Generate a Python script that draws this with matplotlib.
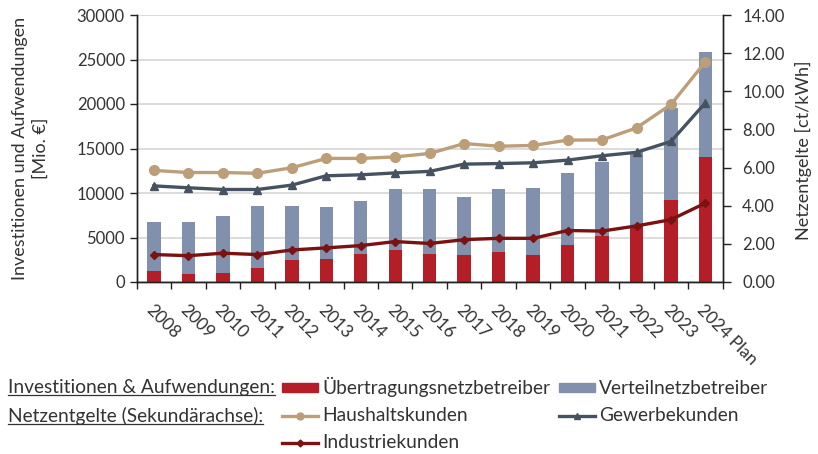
import matplotlib
matplotlib.use("Agg")
import matplotlib.pyplot as plt
from matplotlib.patches import Patch
from matplotlib.lines import Line2D
import numpy as np

plt.rcParams['font.family'] = ['Lato', 'DejaVu Sans']

years = ['2008', '2009', '2010', '2011', '2012', '2013', '2014', '2015', '2016',
         '2017', '2018', '2019', '2020', '2021', '2022', '2023', '2024 Plan']

# Investitionen & Aufwendungen [Mio. €]
uenb = [1200, 900, 1050, 1550, 2450, 2600, 3100, 3550, 3200, 3050, 3350, 3050,
        4150, 5150, 6350, 9200, 14000]
vnb = [5500, 5800, 6400, 6950, 6050, 5800, 6050, 6850, 7200, 6550, 7050, 7500,
       8100, 8350, 8300, 10350, 11800]

# Netzentgelte [ct/kWh]
haushalt = [5.85, 5.74, 5.74, 5.70, 5.99, 6.48, 6.48, 6.56, 6.74, 7.26, 7.12, 7.16,
            7.44, 7.45, 8.08, 9.31, 11.55]
gewerbe = [5.04, 4.94, 4.85, 4.85, 5.08, 5.57, 5.62, 5.72, 5.80, 6.18, 6.21, 6.25,
           6.39, 6.62, 6.80, 7.37, 9.40]
industrie = [1.44, 1.38, 1.51, 1.44, 1.68, 1.79, 1.91, 2.12, 2.02, 2.22, 2.29, 2.29,
             2.70, 2.67, 2.94, 3.27, 4.14]

C_UENB = '#B41F27'
C_VNB = '#8191AD'
C_HH = '#BC9E78'
C_GW = '#46525F'
C_IN = '#7A1212'
TXT = '#333333'

fig = plt.figure(figsize=(8.18, 4.54), dpi=100)
ax = fig.add_axes([136.7 / 818, 1 - 282 / 454, (722.7 - 136.7) / 818, (282 - 15) / 454])
ax2 = ax.twinx()

x = np.arange(len(years))
ax.bar(x, uenb, width=0.39, color=C_UENB, zorder=2)
ax.bar(x, vnb, width=0.39, bottom=uenb, color=C_VNB, zorder=2)

ax.set_xlim(-0.5, len(years) - 0.5)
ax.set_ylim(0, 30000)
ax.set_yticks(np.arange(0, 30001, 5000))
ax.yaxis.grid(True, color='#D9D9D9', lw=1.3, zorder=0)
ax.set_axisbelow(True)

# category labels at bar centres, tick marks at category boundaries
ax.set_xticks(x)
ax.set_xticklabels(years, rotation=-45, ha='left', va='top', rotation_mode='anchor')
ax.set_xticks(np.arange(-0.5, len(years)), minor=True)
ax.tick_params(axis='x', which='major', length=0, pad=14, labelsize=12.5, labelcolor=TXT)
ax.tick_params(axis='x', which='minor', length=5, width=1, color='#222222', direction='out')
ax.tick_params(axis='y', length=5, width=1, color='#222222', labelsize=12, labelcolor=TXT)

ax2.plot(x, haushalt, color=C_HH, lw=2.4, marker='o', ms=7, zorder=3)
ax2.plot(x, gewerbe, color=C_GW, lw=2.4, marker='^', ms=5.5, zorder=3)
ax2.plot(x, industrie, color=C_IN, lw=2.4, marker='D', ms=4.5, zorder=3)
ax2.set_ylim(0, 14)
ax2.set_yticks(np.arange(0, 14.01, 2))
ax2.set_yticklabels([f'{v:.2f}' for v in np.arange(0, 14.01, 2)])
ax2.tick_params(axis='y', length=6, width=1, color='#222222', labelsize=12, labelcolor=TXT, pad=8)

for a in (ax, ax2):
    a.spines['top'].set_visible(False)
    for s in ('left', 'right', 'bottom'):
        a.spines[s].set_color('#222222')
        a.spines[s].set_linewidth(1)

fig.text(30 / 818, 1 - 148 / 454, 'Investitionen und Aufwendungen\n[Mio. €]',
         rotation=90, ha='center', va='center', ma='center', fontsize=13,
         color=TXT, linespacing=1.35)
fig.text(803 / 818, 1 - 150 / 454, 'Netzentgelte [ct/kWh]', rotation=90,
         ha='center', va='center', fontsize=13, color=TXT)

# legend block below the chart
LEG_FS = 13.8
handles = [
    Patch(color=C_UENB, label='Übertragungsnetzbetreiber'),
    Line2D([], [], color=C_HH, lw=2.4, marker='o', ms=5, label='Haushaltskunden'),
    Line2D([], [], color=C_IN, lw=2.4, marker='D', ms=3.5, label='Industriekunden'),
    Patch(color=C_VNB, label='Verteilnetzbetreiber'),
    Line2D([], [], color=C_GW, lw=2.4, marker='^', ms=4, label='Gewerbekunden'),
]
leg = fig.legend(handles=handles, ncol=2, loc='upper left',
                 bbox_to_anchor=(282 / 818, 1 - 377 / 454), frameon=False,
                 fontsize=LEG_FS, handlelength=1.9, handleheight=0.33,
                 handletextpad=0.2, columnspacing=0.45, labelspacing=0.53,
                 borderpad=0, borderaxespad=0, numpoints=1)
for t in leg.get_texts():
    t.set_color(TXT)

heads = []
for label, ypix in (('Investitionen & Aufwendungen:', 388),
                    ('Netzentgelte (Sekundärachse):', 416)):
    heads.append(fig.text(8 / 818, 1 - ypix / 454, label, ha='left', va='center',
                          fontsize=LEG_FS, color=TXT))

fig.canvas.draw()
renderer = fig.canvas.get_renderer()
inv = fig.transFigure.inverted()
for t in heads:
    bb = t.get_window_extent(renderer)
    (x0, y0), (x1, _) = inv.transform([(bb.x0, bb.y0 + 1.5), (bb.x1, bb.y0)])
    fig.add_artist(Line2D([x0, x1], [y0, y0], transform=fig.transFigure,
                          color=TXT, lw=0.9))

fig.savefig('out.png', dpi=100)
